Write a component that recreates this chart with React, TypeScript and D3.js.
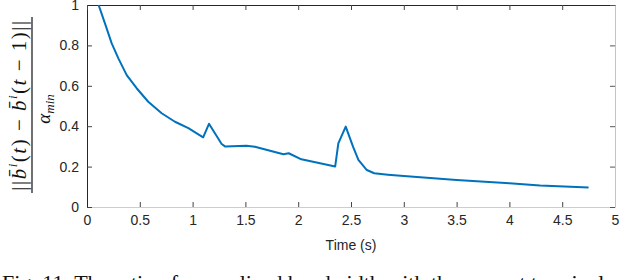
import React, { useEffect, useRef } from "react";
import * as d3 from "d3";

// time (s) and ratio values
const times = [0.11, 0.17, 0.234, 0.297, 0.376, 0.47, 0.58, 0.707, 0.833, 0.96, 1.1, 1.155, 1.275, 1.31, 1.51, 1.59, 1.86, 1.91, 2.03, 2.35, 2.38, 2.45, 2.52, 2.57, 2.65, 2.72, 2.85, 3.0, 3.5, 4.0, 4.29, 4.75];
const ratios = [1.0, 0.909, 0.81, 0.736, 0.653, 0.588, 0.521, 0.464, 0.422, 0.39, 0.345, 0.412, 0.312, 0.299, 0.303, 0.298, 0.261, 0.266, 0.236, 0.2, 0.315, 0.398, 0.298, 0.233, 0.183, 0.167, 0.16, 0.153, 0.134, 0.117, 0.107, 0.097];

const xTicks = [0, 0.5, 1, 1.5, 2, 2.5, 3, 3.5, 4, 4.5, 5];
const yTicks = [0, 0.2, 0.4, 0.6, 0.8, 1];

const xLabel = "Time (s)";
const caption = "Fig. 11. The ratio of normalized bandwidth with the current terminal";

const W = 620;
const H = 280;
const plot = { left: 87, right: 615, top: 5, bottom: 207 };

const App = () => {
  const svgRef = useRef<SVGSVGElement>(null);

  useEffect(() => {
    const svg = d3.select(svgRef.current);
    svg.selectAll(".chart").remove();
    const g = svg.append("g").attr("class", "chart");

    const x = d3.scaleLinear().domain([0, 5]).range([plot.left, plot.right]);
    const y = d3.scaleLinear().domain([0, 1]).range([plot.bottom, plot.top]);

    const fmt = (d: any) => String(d);
    const font = "'Liberation Sans', Arial, sans-serif";

    // bottom axis (light line, inward ticks)
    const bottom = g
      .append("g")
      .attr("transform", `translate(0,${plot.bottom})`)
      .call(d3.axisBottom(x).tickValues(xTicks).tickFormat(fmt).tickSizeInner(-5).tickSizeOuter(0).tickPadding(8));
    bottom.select(".domain").attr("stroke", "#cdcdcd");
    bottom.selectAll(".tick line").attr("stroke", "#444");
    bottom.selectAll(".tick text").attr("font-family", font).attr("font-size", 14).attr("fill", "#262626");

    // left axis
    const left = g
      .append("g")
      .attr("transform", `translate(${plot.left},0)`)
      .call(d3.axisLeft(y).tickValues(yTicks).tickFormat(fmt).tickSizeInner(-5).tickSizeOuter(0).tickPadding(8));
    left.select(".domain").attr("stroke", "#262626");
    left.selectAll(".tick line").attr("stroke", "#444");
    left.selectAll(".tick text").attr("font-family", font).attr("font-size", 14).attr("fill", "#262626");

    // top & right box edges
    const top = g
      .append("g")
      .attr("transform", `translate(0,${plot.top})`)
      .call(d3.axisTop(x).tickValues(xTicks).tickFormat(() => "").tickSizeInner(-5).tickSizeOuter(0));
    top.select(".domain").attr("stroke", "#262626");
    top.selectAll(".tick line").attr("stroke", "#444");

    const right = g
      .append("g")
      .attr("transform", `translate(${plot.right},0)`)
      .call(d3.axisRight(y).tickValues(yTicks).tickFormat(() => "").tickSizeInner(-5).tickSizeOuter(0));
    right.select(".domain").attr("stroke", "#c4c4c4");
    right.selectAll(".tick line").attr("stroke", "#555");

    // curve
    const pts = times.map((t, i) => [t, ratios[i]] as [number, number]);
    const ln = d3
      .line<[number, number]>()
      .x((d) => x(d[0]))
      .y((d) => y(d[1]))
      .curve(d3.curveLinear);
    g.append("path")
      .datum(pts)
      .attr("d", ln)
      .attr("fill", "none")
      .attr("stroke", "#0072BD")
      .attr("stroke-width", 2)
      .attr("stroke-linejoin", "round");

    g.append("text")
      .attr("x", (plot.left + plot.right) / 2)
      .attr("y", 250)
      .attr("text-anchor", "middle")
      .attr("font-family", font)
      .attr("font-size", 14)
      .attr("fill", "#262626")
      .text(xLabel);
  }, []);

  const serif = "'Liberation Serif', 'Times New Roman', serif";

  return (
    <svg
      ref={svgRef}
      width={W}
      height={H}
      style={{ position: "absolute", left: 0, top: 0, background: "#fff" }}
    >
      {/* y label: fraction, rotated */}
      <g transform="translate(0,105) rotate(-90)">
        <text
          x={0}
          y={26}
          textAnchor="middle"
          fontFamily={serif}
          fontSize={21}
          fill="#111"
          letterSpacing={1.5}
        >
          ||<tspan fontStyle="italic">b̄</tspan>
          <tspan fontSize={13} fontStyle="italic" dy={-9}>i</tspan>
          <tspan dy={9}>(</tspan>
          <tspan fontStyle="italic">t</tspan>) − <tspan fontStyle="italic">b̄</tspan>
          <tspan fontSize={13} fontStyle="italic" dy={-9}>i</tspan>
          <tspan dy={9}>(</tspan>
          <tspan fontStyle="italic">t</tspan> − 1)||
        </text>
        <line x1={-88} x2={88} y1={32} y2={32} stroke="#111" strokeWidth={1.2} />
        <text x={-4} y={50} textAnchor="middle" fontFamily={serif} fontSize={19} fill="#111">
          <tspan fontStyle="italic">α</tspan>
          <tspan fontSize={13} fontStyle="italic" dy={4}>min</tspan>
        </text>
      </g>
      <text x={2} y={290} fontFamily={serif} fontSize={22} fill="#111">
        {caption}
      </text>
    </svg>
  );
};

export default App;
